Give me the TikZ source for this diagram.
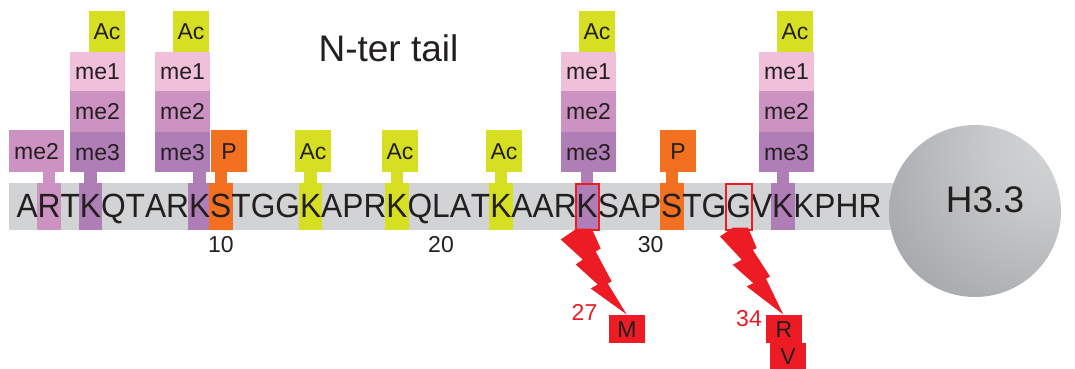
\documentclass[tikz,border=0pt]{standalone}
\usepackage{fontspec}
\setmainfont{Liberation Sans}
\usepackage{graphicx}
\definecolor{barcol}{HTML}{D1D3D4}
\definecolor{me1c}{HTML}{F0BFDA}
\definecolor{me2c}{HTML}{CC93C2}
\definecolor{me3c}{HTML}{B07EB6}
\definecolor{acc}{HTML}{D7DF22}
\definecolor{pc}{HTML}{F37021}
\definecolor{redc}{HTML}{ED1C24}
\definecolor{ink}{HTML}{231F20}
\pgfdeclareradialshading{sph}{\pgfpoint{29bp}{24bp}}{rgb(0bp)=(0.84,0.845,0.85);rgb(18bp)=(0.79,0.795,0.80);rgb(45bp)=(0.66,0.67,0.68);rgb(85bp)=(0.50,0.51,0.52);rgb(100bp)=(0.50,0.51,0.52)}
\pgfdeclarelayer{bg}
\pgfsetlayers{bg,main}
\newcommand\seqfont{\fontsize{31.7}{38}\selectfont}
\newcommand\modfont{\fontsize{23}{27}\selectfont}
\newcommand\vst[1]{\scalebox{1}[1.06]{#1}}
\tikzset{
  seq/.style={inner sep=0, outer sep=0, font=\seqfont, text=ink},
  hl/.style={inner sep=0, outer sep=0, minimum width=23.5, minimum height=47},
  mod/.style={inner sep=0, outer sep=0, font=\modfont, text=ink, text height=16.5, text depth=0},
  stem/.style={line width=12.5},
  num/.style={font=\modfont, text=ink, inner sep=0, anchor=base},
}
\newcommand\modstack[3]{%
  \node[mod, fill=me3c, minimum width=55, minimum height=40.5] (#1m3) at (#2,151.75) {me3};
  \node[mod, fill=me2c, minimum width=55, minimum height=41] (#1m2) at (#2,111) {me2};
  \node[mod, fill=me1c, minimum width=55, minimum height=38.5] (#1m1) at (#2,71.25) {me1};
  \node[mod, fill=acc, minimum width=36, minimum height=41] (#1ac) at (#3,31.5) {Ac};}
\begin{document}
\begin{tikzpicture}[x=1pt,y=-1pt]
\useasboundingbox (0,0) rectangle (1075,369);
% sequence
\node[inner sep=0, outer sep=0, anchor=base east] (r0) at (16.5,217) {};
\foreach \l [count=\i] in {A,R,T,K,Q,T,A,R,K,S,T,G,G,K,A,P,R,K,Q,L,A,T,K,A,A,R,K,S,A,P,S,T,G,G,V,K,K,P,H,R}{
  \pgfmathtruncatemacro\j{\i-1}
  \node[seq, anchor=base west] (r\i) at (r\j.base east) {\vst{\l}};
}
\begin{pgfonlayer}{bg}
\node[fill=barcol, inner sep=0, outer sep=0, minimum width=886, minimum height=47, anchor=north west] (bar) at (9,183) {};
\foreach \k/\c in {2/me2c,4/me3c,9/me3c,10/pc,14/acc,18/acc,23/acc,27/me3c,31/pc,36/me3c}{
  \node[hl, fill=\c] (h\k) at (r\k.center |- bar.center) {};
}
\end{pgfonlayer}
% modification boxes
\node[mod, fill=me2c, minimum width=55, minimum height=42] (m2) at (36.5,151) {me2};
\modstack{c4}{97.5}{107}
\modstack{c9}{182.5}{191}
\modstack{c27}{588.5}{597}
\modstack{c36}{786.5}{795}
\node[mod, fill=pc, minimum width=36, minimum height=42] (p10) at (229,151) {P};
\node[mod, fill=pc, minimum width=36, minimum height=42] (p31) at (678,151) {P};
\node[mod, fill=acc, minimum width=36, minimum height=42] (a14) at (313,151) {Ac};
\node[mod, fill=acc, minimum width=36, minimum height=42] (a18) at (400,151) {Ac};
\node[mod, fill=acc, minimum width=36, minimum height=42] (a23) at (504,151) {Ac};
% stems
\draw[stem, me2c] (h2.north) -- (h2.north |- m2.south);
\draw[stem, me3c] (h4.north) -- (h4.north |- c4m3.south);
\draw[stem, me3c] (h9.north) -- (h9.north |- c9m3.south);
\draw[stem, pc] (h10.north) -- (h10.north |- p10.south);
\draw[stem, acc] (h14.north) -- (h14.north |- a14.south);
\draw[stem, acc] (h18.north) -- (h18.north |- a18.south);
\draw[stem, acc] (h23.north) -- (h23.north |- a23.south);
\draw[stem, me3c] (h27.north) -- (h27.north |- c27m3.south);
\draw[stem, pc] (h31.north) -- (h31.north |- p31.south);
\draw[stem, me3c] (h36.north) -- (h36.north |- c36m3.south);
% numbering
\node[num] (n10) at (r10.center |- 0,252) {10};
\node[num] (n20) at (r20.center |- 0,252) {20};
\node[num] (n30) at (r30.center |- 0,252) {30};
% title
\node[font=\fontsize{37}{44}\selectfont, text=ink, anchor=base, inner sep=0] (title) at (388.5,61) {N-ter tail};
% sphere
\node[circle, shade, shading=sph, minimum size=172, inner sep=0] (h33) at (975,211) {};
\node[font=\fontsize{37}{44}\selectfont, text=ink, anchor=base, inner sep=0] (h33lbl) at (985,212) {H3.3};
% mutation outlines
\node[hl, draw=redc, line width=2, minimum width=23, minimum height=46] (o27) at (h27) {};
\node[hl, draw=redc, line width=2, minimum width=26, minimum height=46] (o34) at (r34.center |- bar.center) {};
% mutant boxes
\node[mod, fill=redc, minimum width=36, minimum height=28] (mutM) at (627,329) {M};
\node[mod, fill=redc, minimum width=36, minimum height=28] (mutR) at (784,329) {R};
\node[mod, fill=redc, minimum width=36, minimum height=26] (mutV) at (788,356) {V};
\node[num, text=redc] (l27) at (584.5,320) {27};
\node[num, text=redc] (l34) at (749,326) {34};
% bolts
\fill[redc, shift={(o27.south)}] (-10.5,-1) -- (4.5,-1) -- (13.5,19) -- (8.5,22) -- (24.5,52) -- (20.5,54) -- (39.5,85) -- (3.5,59) -- (10.5,55) -- (-11.5,35) -- (-4.5,30) -- (-26.5,10) -- cycle;
\fill[redc, shift={(o34.south)}] (-5.7,-2) -- (9.3,-2) -- (18,18.7) -- (14,20.3) -- (31.3,47) -- (27.3,49.3) -- (44.6,85) -- (8,57) -- (14.6,53.7) -- (-6,35.3) -- (3,30.3) -- (-18.7,7) -- cycle;
\end{tikzpicture}
\end{document}
